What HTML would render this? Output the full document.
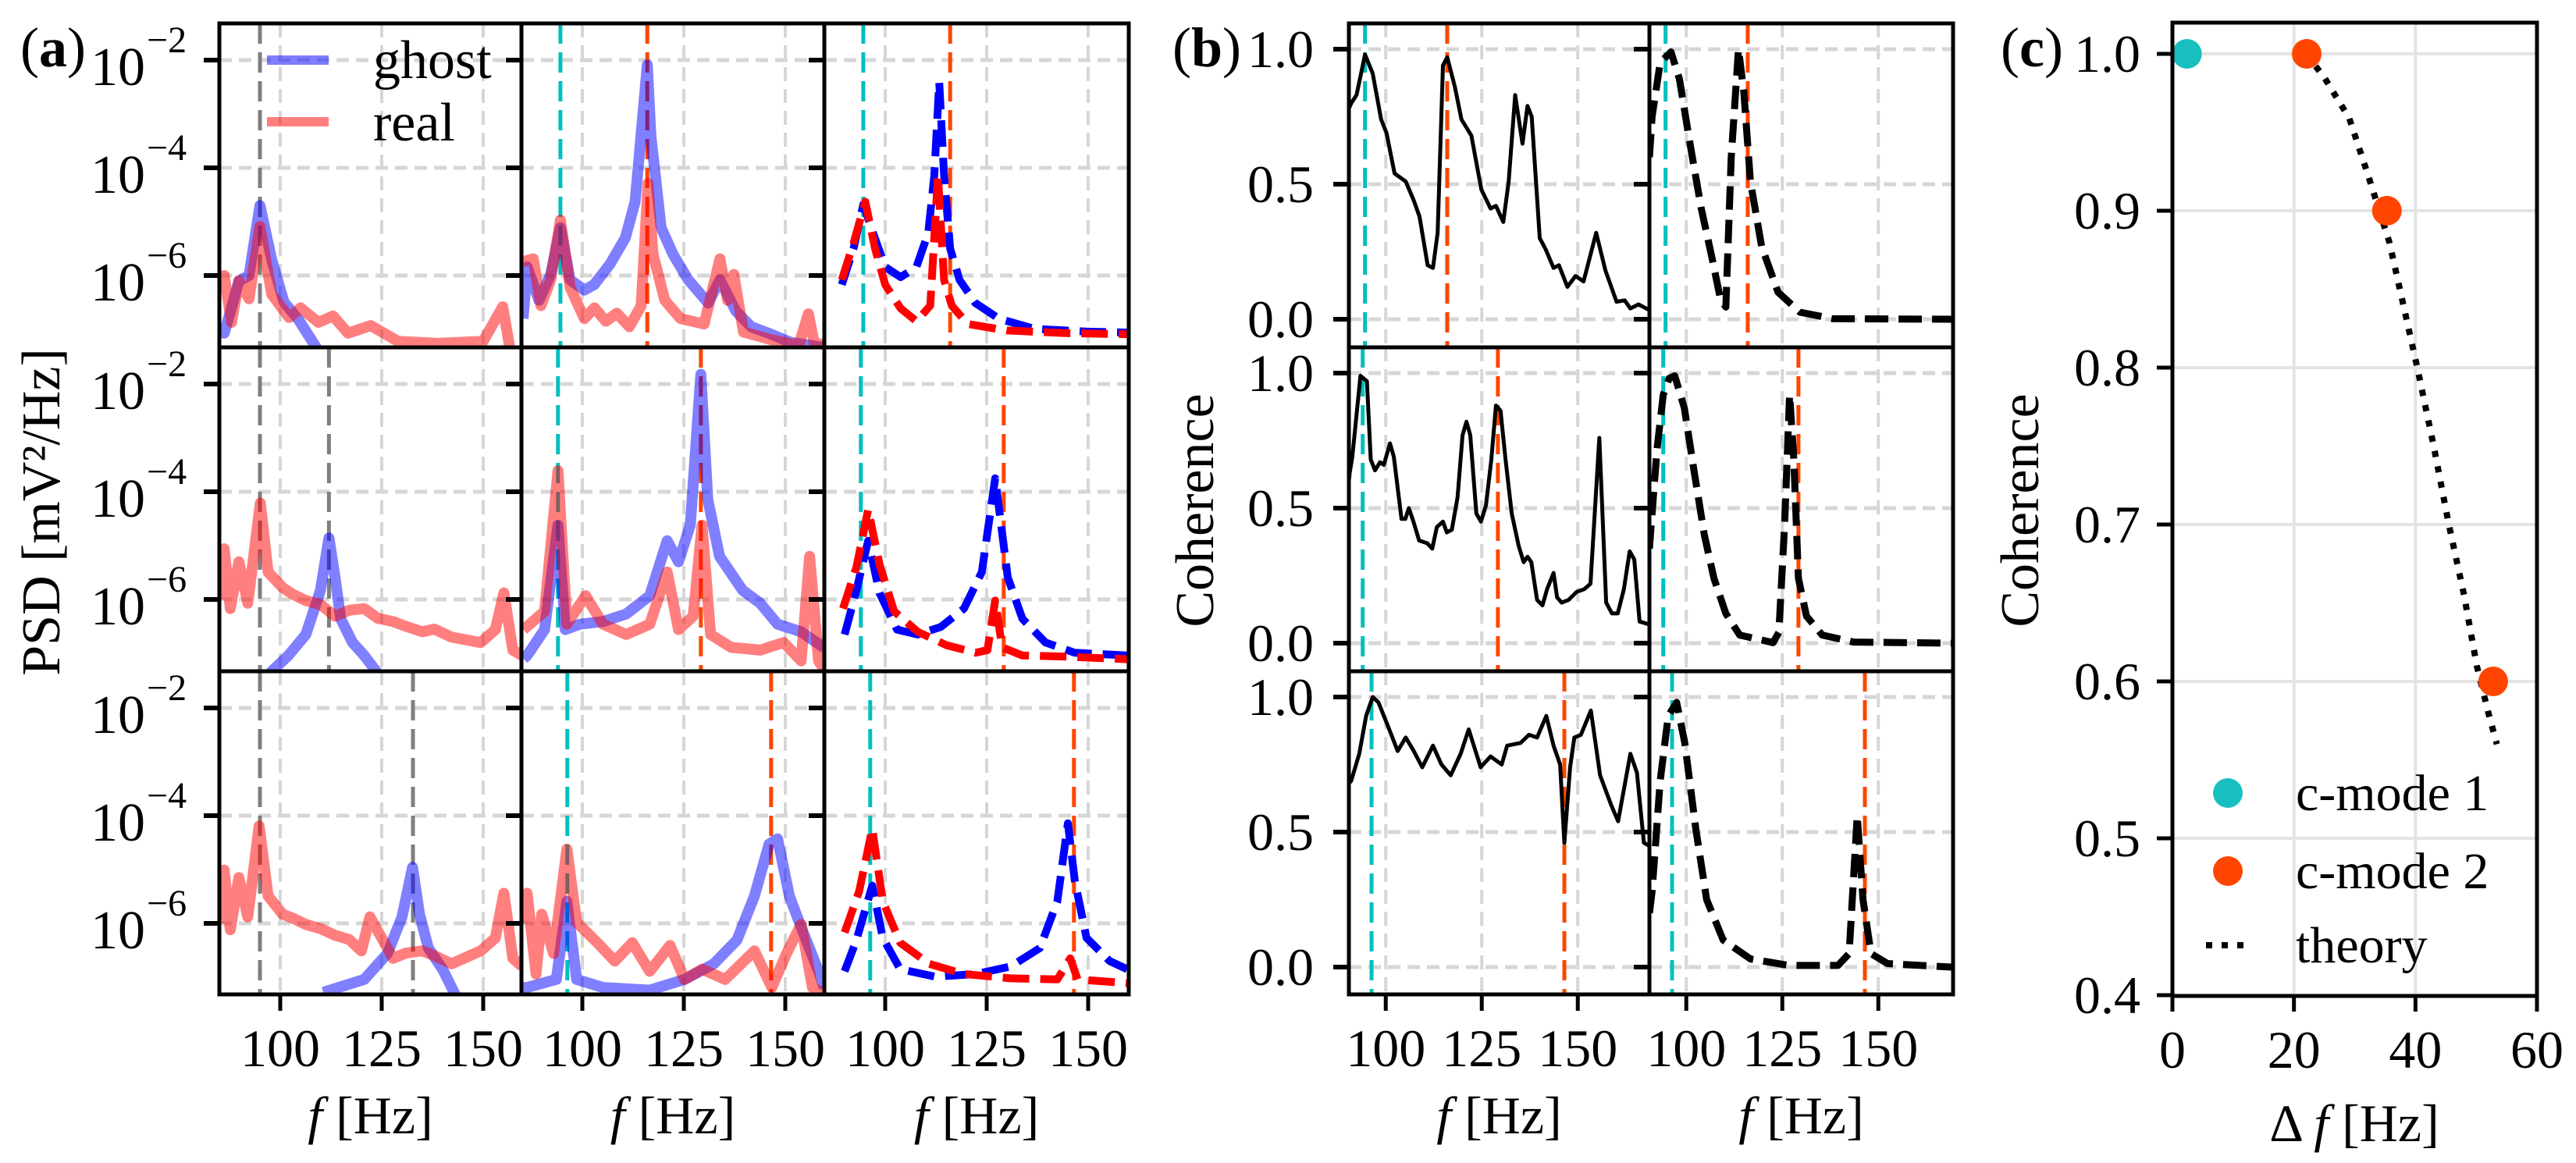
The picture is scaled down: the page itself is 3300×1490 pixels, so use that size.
<!DOCTYPE html>
<html><head><meta charset="utf-8">
<style>
html,body{margin:0;padding:0;background:#fff;}
svg{display:block;font-family:"Liberation Serif","DejaVu Serif",serif;}
</style></head>
<body>
<svg id="fig" width="3300" height="1490" viewBox="0 0 3300 1490" xmlns="http://www.w3.org/2000/svg">
<rect x="0" y="0" width="3300" height="1490" fill="#fff"/>
<g id="root"></g>
</svg>
<script>
// ---------- data: panel (a) PSD, pairs of [frequency Hz, log10 PSD] ----------
const aR1C1Ghost=[[85,-6.9],[86.2,-7.07],[88,-6.6],[89.8,-6.1],[92.3,-6.0],[95,-4.7],[97.9,-5.71],[100.9,-6.49],[104.6,-6.83],[109.4,-7.4]];
const aR1C1Real=[[85,-6.3],[86.2,-6.0],[88,-6.87],[89.8,-6.1],[92.3,-6.43],[95,-5.09],[97.9,-6.35],[102.2,-6.78],[105,-6.6],[109.4,-6.87],[113,-6.75],[116.7,-7.07],[122.3,-6.93],[129,-7.22],[138.8,-7.26],[150,-7.22],[154.8,-6.58],[156.7,-7.4]];
const aR1C2Ghost=[[85.4,-6.8],[86.4,-5.84],[89.3,-6.46],[92.2,-5.98],[94.6,-5.11],[97,-6.08],[100.5,-6.27],[102.9,-6.17],[106.8,-5.79],[110.6,-5.3],[113,-4.63],[115,-2.94],[116,-2.09],[116.9,-3.42],[119.4,-5.11],[122.3,-5.6],[126.1,-6.08],[131,-6.51],[133.9,-6.08],[137.8,-6.66],[141.6,-6.95],[146.5,-7.09],[151.3,-7.24],[159,-7.33]];
const aR1C2Real=[[85.4,-5.74],[87.9,-5.69],[89.8,-6.56],[92.2,-6.08],[94.6,-4.97],[97,-6.22],[100.5,-6.8],[103,-6.6],[105.8,-6.85],[108.5,-6.7],[111.6,-6.95],[114.5,-6.56],[116.2,-4.29],[117.4,-5.6],[120.3,-6.46],[124.2,-6.8],[130,-6.9],[133.9,-5.69],[135.8,-6.46],[137.3,-5.98],[139.7,-7.05],[146.5,-7.19],[153.3,-7.3],[155.7,-6.71],[157.1,-7.24],[159.6,-7.3]];
const aR1C3Ghost=[[89.3,-6.17],[92.2,-5.5],[94.6,-4.68],[97,-5.21],[100,-5.84],[103.8,-6.03],[107.7,-5.84],[110.6,-5.21],[112.1,-4.14],[113.3,-2.41],[114.5,-4.14],[116,-5.5],[118.3,-6.08],[122.2,-6.51],[128,-6.8],[136.8,-6.99],[149.4,-7.04],[160,-7.06]];
const aR1C3Real=[[89.3,-6.08],[92.2,-5.4],[95.1,-4.63],[97.5,-5.5],[100,-6.17],[103.8,-6.61],[107.7,-6.85],[111.1,-6.56],[113,-4.14],[114.5,-6.08],[116.4,-6.56],[120.3,-6.9],[130,-7.02],[144.5,-7.07],[160,-7.09]];
const aR2C1Ghost=[[97,-7.4],[102,-7.04],[106.3,-6.65],[109.9,-5.83],[112,-4.86],[113.5,-5.59],[114.9,-6.36],[117.8,-6.8],[120.7,-7.04],[124.3,-7.4]];
const aR2C1Real=[[85,-6.0],[86.2,-5.06],[87.7,-6.17],[89.8,-5.3],[92,-6.07],[95.1,-4.21],[97,-5.49],[100.6,-5.78],[103,-5.9],[106.3,-6.02],[110,-6.1],[113.5,-6.31],[117,-6.2],[120.7,-6.17],[124,-6.35],[127.8,-6.41],[131,-6.5],[135,-6.6],[138,-6.55],[142.2,-6.7],[149.4,-6.8],[153,-6.56],[155.1,-5.88],[157.3,-6.94],[159.6,-7.04]];
const aR2C2Ghost=[[85.5,-7.1],[86.4,-7.04],[90.7,-6.56],[94,-4.62],[95.8,-6.56],[99.4,-6.46],[105.1,-6.41],[110.8,-6.27],[116.6,-5.93],[120.9,-4.91],[123.7,-5.3],[126.6,-4.62],[129.2,-1.82],[130.9,-4.14],[133.8,-5.2],[139.5,-5.83],[143.8,-6.07],[148.1,-6.46],[153.9,-6.6],[159.6,-6.9]];
const aR2C2Real=[[85.5,-6.56],[90.7,-6.22],[94,-3.61],[96.2,-6.46],[100.8,-5.93],[105.1,-6.46],[110.8,-6.65],[116.6,-6.46],[120.9,-5.49],[123.7,-6.56],[127.3,-6.31],[129.5,-4.62],[131.6,-6.65],[136.7,-6.89],[143.8,-6.94],[149.6,-6.8],[153.9,-7.14],[156,-5.2],[158.2,-7.14],[159.6,-7.3]];
const aR2C3Ghost=[[90,-6.65],[92.9,-5.83],[95.8,-4.91],[98.6,-5.88],[102.9,-6.56],[108,-6.65],[113.7,-6.51],[119.4,-6.17],[123.8,-5.49],[127.1,-3.75],[130.2,-5.59],[133.8,-6.36],[139.5,-6.8],[146.7,-6.99],[159.6,-7.04]];
const aR2C3Real=[[89.6,-6.17],[92.9,-5.4],[95.8,-4.33],[98.6,-5.35],[102.2,-6.22],[108,-6.6],[115.1,-6.85],[122.3,-6.99],[125.2,-6.94],[127.1,-6.02],[128.8,-6.89],[133.8,-7.04],[143.8,-7.06],[159.6,-7.11]];
const aR3C1Ghost=[[110.6,-7.28],[120.7,-7.04],[126.4,-6.56],[130,-5.88],[132.6,-4.96],[134.3,-5.83],[136.5,-6.46],[140,-6.85],[143.6,-7.4]];
const aR3C1Real=[[85,-6.0],[86.2,-5.01],[87.7,-6.12],[89.8,-5.15],[92,-5.88],[94.8,-4.19],[97,-5.49],[100.6,-5.83],[103,-5.9],[106.3,-6.02],[110,-6.1],[113.5,-6.22],[117,-6.3],[120,-6.51],[122.1,-5.88],[127.8,-6.65],[131,-6.55],[135,-6.51],[138,-6.6],[142.2,-6.75],[149.4,-6.51],[153,-6.27],[155.1,-5.44],[157.3,-6.65],[159.6,-6.8]];
const aR3C2Ghost=[[85.5,-7.19],[86.4,-7.19],[93.6,-7.04],[96.2,-5.59],[98.6,-7.04],[105.1,-7.19],[116.6,-7.24],[125.2,-7.04],[132.4,-6.75],[138.1,-6.31],[142.4,-5.49],[146,-4.53],[148.1,-4.43],[151,-5.49],[153.9,-6.07],[158.2,-6.89],[159.6,-7.2]];
const aR3C2Real=[[85.5,-6.0],[86.4,-5.44],[88.6,-6.94],[90,-5.83],[92.9,-6.56],[96.2,-4.62],[98.6,-5.98],[103.7,-6.36],[108,-6.7],[112.3,-6.36],[116.6,-6.89],[121.6,-6.41],[125.2,-7.04],[129.5,-6.85],[135.2,-7.04],[142.4,-6.51],[146.7,-7.19],[150.3,-6.56],[153.9,-6.02],[156.7,-7.19],[159.6,-7.3]];
const aR3C3Ghost=[[90,-6.89],[92.9,-6.31],[96.8,-5.3],[99.4,-6.27],[103.7,-6.85],[112.3,-6.99],[122.3,-6.94],[130.9,-6.8],[138.1,-6.46],[142.4,-5.59],[145,-4.14],[146.7,-5.2],[149.6,-6.27],[155.3,-6.7],[159.6,-6.85]];
const aR3C3Real=[[90,-6.17],[93.6,-5.4],[96.8,-4.24],[99.4,-5.59],[103.7,-6.36],[110.8,-6.75],[119.4,-6.94],[130.9,-7.02],[142.4,-7.04],[145.6,-6.65],[147.4,-7.04],[159.6,-7.11]];
// mode marker lines (Hz): c-mode 1, c-mode 2, and ghost/gray lines
const modeCyan=[94.6,94,96.3];
const modeOrange=[116,129.2,146.5];
const ghostLines=[[95],[95,112],[95,132.7]];
// ---------- data: panel (b) coherence, pairs of [frequency Hz, coherence] ----------
const bR1Meas=[[90.4,0.78],[91,0.8],[92.4,0.83],[94.6,0.98],[96.6,0.91],[98.8,0.74],[100.2,0.69],[102.3,0.54],[105.2,0.51],[107.3,0.44],[108.8,0.38],[110.9,0.2],[112.3,0.19],[113.5,0.32],[114.9,0.94],[116,0.97],[118,0.86],[119.7,0.74],[122.3,0.68],[124.9,0.48],[127.3,0.41],[128.7,0.42],[130.6,0.36],[132,0.51],[133.7,0.83],[135.6,0.65],[136.9,0.79],[138,0.75],[140.1,0.3],[141.6,0.26],[143.7,0.19],[145.1,0.2],[147.3,0.12],[149.4,0.16],[151.5,0.14],[154.8,0.32],[157.2,0.18],[160.1,0.065],[162.2,0.07],[163.7,0.04],[165.8,0.055],[168.5,0.035]];
const bR1Theory=[[90.4,0.6],[91.1,0.75],[93.2,0.95],[96,0.99],[98.2,0.89],[101.1,0.64],[103.9,0.41],[106.8,0.22],[108.9,0.074],[110.3,0.045],[111.7,0.6],[113.6,1.0],[115,0.84],[116.7,0.51],[119.6,0.27],[123.9,0.1],[129.6,0.026],[138.1,0.002],[169,0]];
const bR2Meas=[[90.4,0.6],[90.6,0.63],[91.3,0.69],[93.4,0.99],[95.1,0.97],[96.1,0.68],[97.2,0.64],[98.5,0.67],[99.5,0.66],[101.1,0.74],[102.1,0.69],[104.1,0.46],[105.1,0.46],[106,0.5],[107.2,0.45],[108.7,0.38],[110.8,0.37],[112.1,0.35],[113.3,0.43],[114.9,0.45],[115.9,0.41],[117.2,0.42],[118.7,0.54],[120,0.77],[121,0.82],[122,0.77],[123.6,0.48],[124.8,0.45],[126.1,0.51],[127.5,0.68],[128.7,0.88],[129.9,0.86],[131.2,0.68],[132.8,0.48],[134.6,0.36],[135.9,0.3],[136.9,0.32],[137.9,0.3],[139.4,0.16],[140.8,0.14],[142,0.2],[143.7,0.26],[144.6,0.17],[145.8,0.15],[147.6,0.16],[149.7,0.19],[151.7,0.2],[153.3,0.22],[155.6,0.76],[157.4,0.15],[158.9,0.11],[160.4,0.11],[162,0.2],[163.5,0.34],[164.7,0.31],[166.1,0.08],[168.5,0.07]];
const bR2Theory=[[90.4,0.35],[91.2,0.5],[92.4,0.72],[94,0.92],[95.5,0.98],[97,0.99],[99.5,0.87],[102.1,0.63],[104.7,0.4],[107.2,0.24],[110.3,0.11],[113.9,0.03],[122.6,0.002],[124.1,0.04],[125.6,0.44],[126.9,0.92],[128,0.68],[129.2,0.24],[131.3,0.1],[135.4,0.03],[143.6,0.004],[169,0]];
const bR3Meas=[[90.4,0.68],[91,0.69],[93.1,0.79],[94.9,0.93],[96.6,1.0],[98.1,0.98],[100.9,0.88],[103.1,0.8],[105.2,0.85],[107.3,0.8],[109.5,0.74],[112.3,0.82],[114.5,0.75],[116.9,0.71],[119.5,0.79],[121.6,0.88],[124.7,0.74],[127.3,0.78],[130.2,0.75],[131.6,0.82],[135.1,0.83],[137.3,0.86],[139.4,0.85],[141.8,0.93],[143.7,0.82],[145.4,0.75],[146.5,0.46],[148,0.74],[149.1,0.85],[150.8,0.86],[153.4,0.95],[155.8,0.71],[158.7,0.6],[160.5,0.54],[163.7,0.79],[165.4,0.72],[167.2,0.46],[168.5,0.45]];
const bR3Theory=[[90.4,0.2],[91.1,0.28],[93.2,0.69],[95.3,0.93],[97.5,0.98],[99.6,0.83],[102.5,0.51],[105.3,0.25],[109.6,0.1],[116.7,0.03],[126.7,0.006],[139.5,0.006],[142.4,0.05],[144.5,0.56],[146,0.25],[148.1,0.05],[152.4,0.013],[169,0]];
// ---------- data: panel (c) ----------
const cMode1Df=[2.4];
const cMode1Coh=[1.0];
const cMode2Df=[22.1,35.3,52.8];
const cMode2Coh=[1.0,0.9,0.6];
const theoryDf=[22,25,29.1,32,35.7,38,40.3,43,45.5,48,50.1,52,53.4];
const theoryCoh=[1.0,0.985,0.959,0.925,0.88,0.84,0.80,0.75,0.70,0.655,0.61,0.58,0.56];
// ticks
const aXTicks=[100,125,150];
const aYTicks=[-2,-4,-6];
const aYTickLabels=["−2","−4","−6"];
const bXTicks=[100,125,150];
const bYTicks=[0,0.5,1.0];
const bYTickLabels=["0.0","0.5","1.0"];
const cXTicks=[0,20,40,60];
const cYTicks=[0.4,0.5,0.6,0.7,0.8,0.9,1.0];
const cYTickLabels=["0.4","0.5","0.6","0.7","0.8","0.9","1.0"];

// ---------- layout ----------
const NS="http://www.w3.org/2000/svg";
const root=document.getElementById('root');
const A_COLS=[281,668,1056], A_W=[387,388,390];
const ROWS=[30,445,860], R_H=[415,415,414];
const B_COLS=[1728,2113], B_W=[385,389];
const C_X0=2783,C_X1=3250,C_Y0=29,C_Y1=1276;
const aXs=(c,f)=>A_COLS[c]+(f-85)*5.2;
const aYs=(r,v)=>ROWS[r]+47+(-2-v)*69;
const bXs=(c,f)=>B_COLS[c]+(f-90.4)*4.92;
const bYs=(r,v)=>ROWS[r]+33+(1-v)*346;
const cXs=d=>C_X0+d*7.783;
const cYs=v=>69+(1-v)*2010;
const FS=68;

function mk(tag,attrs,name,parent){
  const el=document.createElementNS(NS,tag);
  for(const k in attrs) el.setAttribute(k,attrs[k]);
  
  
  (parent||root).appendChild(el);
  return el;
}
function txt(x,y,s,size,anchor,name,extra){
  const t=mk('text',Object.assign({x:x,y:y,'font-size':size,'text-anchor':anchor||'middle',fill:'#000'},extra||{}),name);
  t.textContent=s;return t;
}
let clipId=0;
function clip(x,y,w,h){
  const id='cl'+(clipId++);
  const cp=mk('clipPath',{id:id},'clip-path');
  mk('rect',{x:x,y:y,width:w,height:h},'clip-rect',cp);
  return 'url(#'+id+')';
}
function path(pts,xf,yf,attrs,name,g){
  const d=pts.map((p,i)=>(i?'L':'M')+xf(p[0]).toFixed(1)+' '+yf(p[1]).toFixed(1)).join(' ');
  return mk('path',Object.assign({d:d,fill:'none','stroke-linejoin':'round'},attrs),name,g);
}
const GRID={stroke:'#d6d6d6','stroke-width':5,'stroke-dasharray':'16 9'};
const GRIDV={stroke:'#d6d6d6','stroke-width':4,'stroke-dasharray':'18 10'};
function fLabel(x,name){
  const xl=txt(x,1452,'',FS,'middle',name);
  const t1=document.createElementNS(NS,'tspan');t1.setAttribute('font-style','italic');t1.textContent='f';xl.appendChild(t1);
  const t2=document.createElementNS(NS,'tspan');t2.textContent=' [Hz]';xl.appendChild(t2);
}

// ---------- panel (a) ----------
const aData=[[aR1C1Ghost,aR1C1Real,aR1C2Ghost,aR1C2Real,aR1C3Ghost,aR1C3Real],
             [aR2C1Ghost,aR2C1Real,aR2C2Ghost,aR2C2Real,aR2C3Ghost,aR2C3Real],
             [aR3C1Ghost,aR3C1Real,aR3C2Ghost,aR3C2Real,aR3C3Ghost,aR3C3Real]];
for(let r=0;r<3;r++){
  for(let c=0;c<3;c++){
    const x0=A_COLS[c],w=A_W[c],y0=ROWS[r],h=R_H[r];
    const g=mk('g',{'clip-path':clip(x0,y0,w,h)},'psd-subplot-r'+(r+1)+'-c'+(c+1));
    aXTicks.forEach(f=>mk('line',Object.assign({x1:aXs(c,f),x2:aXs(c,f),y1:y0,y2:y0+h},GRIDV),'grid-x',g));
    aYTicks.forEach(v=>mk('line',Object.assign({x1:x0,x2:x0+w,y1:aYs(r,v),y2:aYs(r,v)},GRID),'grid-y',g));
    if(c===0){
      ghostLines[r].forEach(f=>mk('line',{x1:aXs(c,f),x2:aXs(c,f),y1:y0,y2:y0+h,stroke:'#7f7f7f','stroke-width':5,'stroke-dasharray':'26 11'},'ghost-mode-line',g));
    } else {
      mk('line',{x1:aXs(c,modeCyan[r]),x2:aXs(c,modeCyan[r]),y1:y0,y2:y0+h,stroke:'#00bfbf','stroke-width':5,'stroke-dasharray':'26 11'},'c-mode1-line',g);
      mk('line',{x1:aXs(c,modeOrange[r]),x2:aXs(c,modeOrange[r]),y1:y0,y2:y0+h,stroke:'#ff4500','stroke-width':5,'stroke-dasharray':'26 11'},'c-mode2-line',g);
    }
    const gh=aData[r][2*c], re=aData[r][2*c+1];
    const xf=f=>aXs(c,f), yf=v=>aYs(r,v);
    if(c<2){
      path(gh,xf,yf,{stroke:'#0000ff','stroke-opacity':0.5,'stroke-width':14},'ghost-psd-line',g);
      path(re,xf,yf,{stroke:'#ff0000','stroke-opacity':0.5,'stroke-width':14},'real-psd-line',g);
    } else {
      path(gh,xf,yf,{stroke:'#0000ff','stroke-width':10,'stroke-dasharray':'34 14'},'ghost-model-line',g);
      path(re,xf,yf,{stroke:'#ff0000','stroke-width':10,'stroke-dasharray':'34 14'},'real-model-line',g);
    }
    mk('rect',{x:x0,y:y0,width:w,height:h,fill:'none',stroke:'#000','stroke-width':5},'psd-subplot-frame');
    aYTicks.forEach((v,i)=>{
      mk('line',{x1:x0-20,x2:x0,y1:aYs(r,v),y2:aYs(r,v),stroke:'#000','stroke-width':6},'y-tick');
      if(c===0){
        txt(186,aYs(r,v)+32,'10',70,'end','y-tick-label-base');
        txt(188,aYs(r,v)-10,aYTickLabels[i],48,'start','y-tick-label-exponent');
      }
    });
    if(r===2){
      aXTicks.forEach(f=>{
        mk('line',{x1:aXs(c,f),x2:aXs(c,f),y1:y0+h,y2:y0+h+21,stroke:'#000','stroke-width':5},'x-tick');
        txt(aXs(c,f),1366,String(f),FS,'middle','x-tick-label');
      });
      fLabel(x0+w/2,'x-axis-title');
    }
  }
}
// legend (a)
mk('line',{x1:342,x2:421,y1:77,y2:77,stroke:'#0000ff','stroke-opacity':0.5,'stroke-width':12},'legend-ghost-swatch');
mk('line',{x1:342,x2:421,y1:156,y2:156,stroke:'#ff0000','stroke-opacity':0.5,'stroke-width':12},'legend-real-swatch');
txt(478,100,'ghost',70,'start','legend-ghost-label');
txt(478,180,'real',70,'start','legend-real-label');
txt(60,656,'PSD [mV²/Hz]',70,'middle','y-axis-title-psd',{transform:'rotate(-90 60 656)','dominant-baseline':'middle'});
txt(68,85,'',72,'middle','panel-label-a').innerHTML='(<tspan font-weight="bold">a</tspan>)';

// ---------- panel (b) ----------
const bMeas=[bR1Meas,bR2Meas,bR3Meas], bTheo=[bR1Theory,bR2Theory,bR3Theory];
for(let r=0;r<3;r++){
  for(let c=0;c<2;c++){
    const x0=B_COLS[c],w=B_W[c],y0=ROWS[r],h=R_H[r];
    const g=mk('g',{'clip-path':clip(x0,y0,w,h)},'coherence-subplot-r'+(r+1)+'-c'+(c+1));
    bXTicks.forEach(f=>mk('line',Object.assign({x1:bXs(c,f),x2:bXs(c,f),y1:y0,y2:y0+h},GRIDV),'grid-x',g));
    bYTicks.forEach(v=>mk('line',Object.assign({x1:x0,x2:x0+w,y1:bYs(r,v),y2:bYs(r,v)},GRID),'grid-y',g));
    mk('line',{x1:bXs(c,modeCyan[r]),x2:bXs(c,modeCyan[r]),y1:y0,y2:y0+h,stroke:'#00bfbf','stroke-width':5,'stroke-dasharray':'26 11'},'c-mode1-line',g);
    mk('line',{x1:bXs(c,modeOrange[r]),x2:bXs(c,modeOrange[r]),y1:y0,y2:y0+h,stroke:'#ff4500','stroke-width':5,'stroke-dasharray':'26 11'},'c-mode2-line',g);
    const xf=f=>bXs(c,f), yf=v=>bYs(r,v);
    if(c===0) path(bMeas[r],xf,yf,{stroke:'#000','stroke-width':5},'measured-coherence-line',g);
    else path(bTheo[r],xf,yf,{stroke:'#000','stroke-width':9,'stroke-dasharray':'30 13'},'theory-coherence-line',g);
    mk('rect',{x:x0,y:y0,width:w,height:h,fill:'none',stroke:'#000','stroke-width':5},'coherence-subplot-frame');
    bYTicks.forEach((v,i)=>{
      mk('line',{x1:x0-20,x2:x0,y1:bYs(r,v),y2:bYs(r,v),stroke:'#000','stroke-width':6},'y-tick');
      if(c===0) txt(1683,bYs(r,v)+23,bYTickLabels[i],FS,'end','y-tick-label');
    });
    if(r===2){
      bXTicks.forEach(f=>{
        mk('line',{x1:bXs(c,f),x2:bXs(c,f),y1:y0+h,y2:y0+h+21,stroke:'#000','stroke-width':5},'x-tick');
        txt(bXs(c,f),1366,String(f),FS,'middle','x-tick-label');
      });
      fLabel(x0+w/2,'x-axis-title');
    }
  }
}
txt(1538,654,'Coherence',70,'middle','y-axis-title-coherence-b',{transform:'rotate(-90 1538 654)','dominant-baseline':'middle'});
txt(1546,85,'',72,'middle','panel-label-b').innerHTML='(<tspan font-weight="bold">b</tspan>)';

// ---------- panel (c) ----------
(function(){
  const g=mk('g',{'clip-path':clip(C_X0,C_Y0,C_X1-C_X0,C_Y1-C_Y0)},'coherence-vs-df-plot');
  cXTicks.forEach(d=>mk('line',{x1:cXs(d),x2:cXs(d),y1:C_Y0,y2:C_Y1,stroke:'#e3e3e3','stroke-width':4},'grid-x',g));
  cYTicks.forEach(v=>mk('line',{x1:C_X0,x2:C_X1,y1:cYs(v),y2:cYs(v),stroke:'#e3e3e3','stroke-width':4},'grid-y',g));
  path(theoryDf.map((d,i)=>[d,theoryCoh[i]]),cXs,cYs,{stroke:'#000','stroke-width':8,'stroke-dasharray':'8 12'},'theory-line',g);
  cMode1Df.forEach((d,i)=>mk('circle',{cx:cXs(d),cy:cYs(cMode1Coh[i]),r:19,fill:'#17bfbf'},'c-mode1-point',g));
  cMode2Df.forEach((d,i)=>mk('circle',{cx:cXs(d),cy:cYs(cMode2Coh[i]),r:19,fill:'#ff4500'},'c-mode2-point',g));
  mk('rect',{x:C_X0,y:C_Y0,width:C_X1-C_X0,height:C_Y1-C_Y0,fill:'none',stroke:'#000','stroke-width':5},'panel-c-frame');
  cXTicks.forEach(d=>{
    mk('line',{x1:cXs(d),x2:cXs(d),y1:C_Y1,y2:C_Y1+20,stroke:'#000','stroke-width':5},'x-tick');
    txt(cXs(d),1368,String(d),FS,'middle','x-tick-label');
  });
  cYTicks.forEach((v,i)=>{
    mk('line',{x1:C_X0-20,x2:C_X0,y1:cYs(v),y2:cYs(v),stroke:'#000','stroke-width':5},'y-tick');
    txt(2742,cYs(v)+23,cYTickLabels[i],FS,'end','y-tick-label');
  });
  mk('circle',{cx:2854,cy:1016,r:19,fill:'#17bfbf'},'legend-c-mode1-marker');
  mk('circle',{cx:2854,cy:1116,r:19,fill:'#ff4500'},'legend-c-mode2-marker');
  mk('line',{x1:2826,x2:2882,y1:1211,y2:1211,stroke:'#000','stroke-width':8,'stroke-dasharray':'8 12'},'legend-theory-swatch');
  txt(2941,1038,'c-mode 1',66,'start','legend-c-mode1-label');
  txt(2941,1138,'c-mode 2',66,'start','legend-c-mode2-label');
  txt(2941,1233,'theory',66,'start','legend-theory-label');
  const xl=txt(3016,1462,'',FS,'middle','x-axis-title-df');
  xl.innerHTML='Δ <tspan font-style="italic">f</tspan> [Hz]';
  txt(2595,654,'Coherence',70,'middle','y-axis-title-coherence-c',{transform:'rotate(-90 2595 654)','dominant-baseline':'middle'});
  txt(2603,85,'',72,'middle','panel-label-c').innerHTML='(<tspan font-weight="bold">c</tspan>)';
})();
</script>
</body></html>
